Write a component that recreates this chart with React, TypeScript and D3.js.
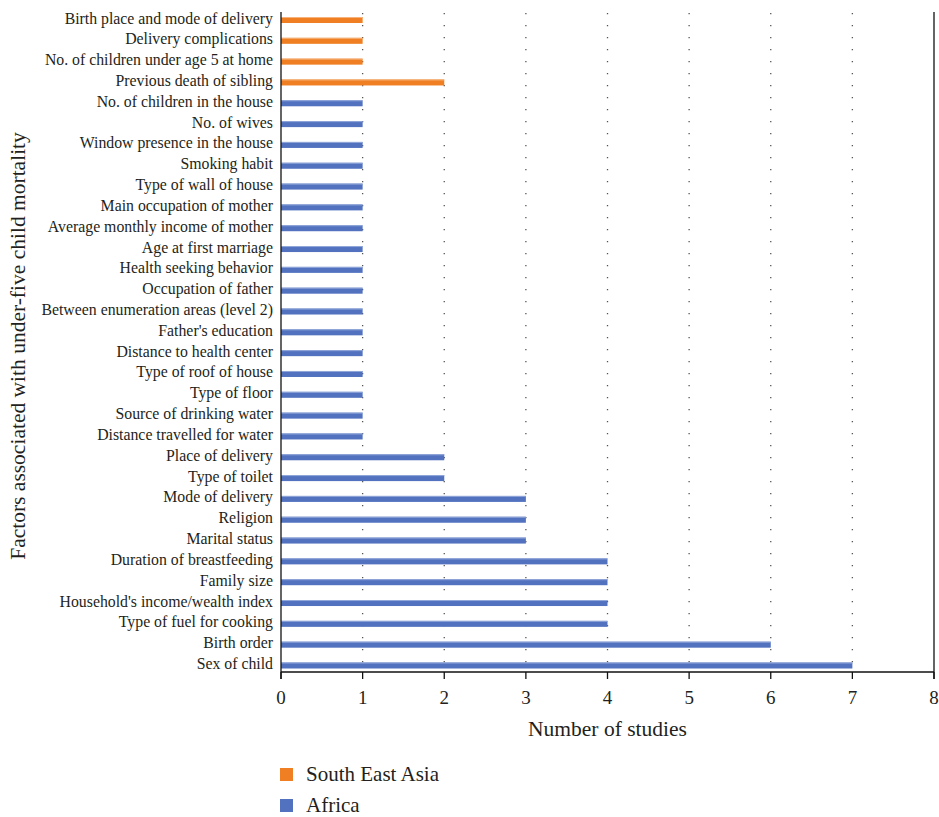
import React from "react";
import * as d3 from "d3";

const categories = [
  "Birth place and mode of delivery",
  "Delivery complications",
  "No. of children under age 5 at home",
  "Previous death of sibling",
  "No. of children in the house",
  "No. of wives",
  "Window presence in the house",
  "Smoking habit",
  "Type of wall of house",
  "Main occupation of mother",
  "Average monthly income of mother",
  "Age at first marriage",
  "Health seeking behavior",
  "Occupation of father",
  "Between enumeration areas (level 2)",
  "Father's education",
  "Distance to health center",
  "Type of roof of house",
  "Type of floor",
  "Source of drinking water",
  "Distance travelled for water",
  "Place of delivery",
  "Type of toilet",
  "Mode of delivery",
  "Religion",
  "Marital status",
  "Duration of breastfeeding",
  "Family size",
  "Household's income/wealth index",
  "Type of fuel for cooking",
  "Birth order",
  "Sex of child",
];

const values = [1, 1, 1, 2, 1, 1, 1, 1, 1, 1, 1, 1, 1, 1, 1, 1, 1, 1, 1, 1, 1, 2, 2, 3, 3, 3, 4, 4, 4, 4, 6, 7];
const regions = [
  "South East Asia", "South East Asia", "South East Asia", "South East Asia",
  "Africa", "Africa", "Africa", "Africa", "Africa", "Africa", "Africa", "Africa", "Africa", "Africa",
  "Africa", "Africa", "Africa", "Africa", "Africa", "Africa", "Africa", "Africa", "Africa", "Africa",
  "Africa", "Africa", "Africa", "Africa", "Africa", "Africa", "Africa", "Africa",
];
const xTicks = [0, 1, 2, 3, 4, 5, 6, 7, 8];
const legendItems = ["South East Asia", "Africa"];

const colors: Record<string, string> = { "South East Asia": "#EF7F22", Africa: "#5272BF" };
const lightColors: Record<string, string> = { "South East Asia": "#F6B27A", Africa: "#93A8DA" };

const FONT = "'Liberation Serif', 'DejaVu Serif', serif";

export default function App() {
  const W = 939, H = 817;
  const left = 281, right = 934, top = 12, bottom = 672;
  const x = d3.scaleLinear().domain([0, 8]).range([left, right]);
  const y = d3.scalePoint<string>().domain(categories).range([20, 665.5]);
  const barH = 6;

  return (
    <svg width={W} height={H} style={{ position: "absolute", left: 0, top: 0 }} fontFamily={FONT}>
      <rect width={W} height={H} fill="#fff" />
      {/* gridlines */}
      {xTicks.filter((t) => t > 0 && t < 8).map((t) => (
        <line key={"g" + t} x1={x(t)} x2={x(t)} y1={top + 1} y2={bottom} stroke="#555" strokeWidth={1.3} strokeDasharray="1.3 10.7" />
      ))}
      {/* bars */}
      {categories.map((c, i) => {
        const cy = y(c)!;
        return (
          <g key={c}>
            <rect x={x(0)} y={cy - barH / 2} width={x(values[i]) - x(0)} height={barH} fill={colors[regions[i]]} />
            <line x1={x(0)} x2={x(values[i])} y1={cy - barH / 2 + 0.5} y2={cy - barH / 2 + 0.5} stroke={lightColors[regions[i]]} strokeWidth={1} />
            <text x={left - 8} y={cy - 2} textAnchor="end" dominantBaseline="central" fontSize={15.8} fill="#231f20">{c}</text>
          </g>
        );
      })}
      {/* frame */}
      <line x1={left} x2={left} y1={top} y2={bottom + 7} stroke="#111" strokeWidth={1.3} />
      <line x1={right} x2={right} y1={top} y2={bottom + 7} stroke="#111" strokeWidth={1.3} />
      <line x1={left} x2={right} y1={bottom} y2={bottom} stroke="#111" strokeWidth={1.3} />
      {xTicks.map((t) => (
        <g key={"t" + t}>
          <line x1={x(t)} x2={x(t)} y1={bottom} y2={bottom + 7} stroke="#111" strokeWidth={1.3} />
          <text x={x(t)} y={697} textAnchor="middle" dominantBaseline="central" fontSize={19} fill="#231f20">{t}</text>
        </g>
      ))}
      <text x={(left + right) / 2} y={729} textAnchor="middle" dominantBaseline="central" fontSize={21.5} fill="#231f20">Number of studies</text>
      <text transform={`translate(18, ${346}) rotate(-90)`} textAnchor="middle" dominantBaseline="central" fontSize={21.5} fill="#231f20">Factors associated with under-five child mortality</text>
      {/* legend */}
      {legendItems.map((l, i) => (
        <g key={l} transform={`translate(280, ${768 + i * 31})`}>
          <rect x={0} y={0} width={13} height={13} fill={colors[l]} />
          <text x={26} y={6} dominantBaseline="central" fontSize={21} fill="#231f20">{l}</text>
        </g>
      ))}
    </svg>
  );
}
